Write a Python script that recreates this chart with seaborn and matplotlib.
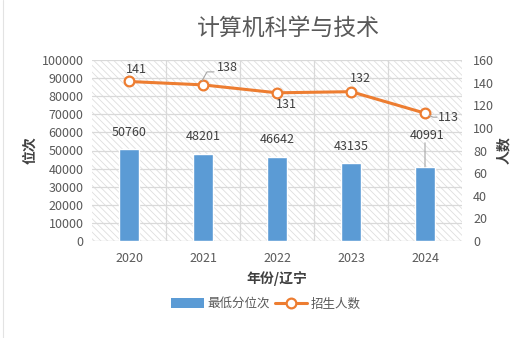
import matplotlib
matplotlib.use("Agg")
import matplotlib.pyplot as plt
import seaborn as sns
import pandas as pd
from matplotlib.patches import Rectangle
from matplotlib.lines import Line2D
from matplotlib.patches import Patch

years = ["2020", "2021", "2022", "2023", "2024"]
min_rank = [50760, 48201, 46642, 43135, 40991]
enrollment = [141, 138, 131, 132, 113]

title = "计算机科学与技术"
xlabel = "年份/辽宁"
ylabel_left = "位次"
ylabel_right = "人数"
legend_bar = "最低分位次"
legend_line = "招生人数"

BLUE = "#5B9BD5"
ORANGE = "#ED7D31"
TXT = "#595959"
GRID = "#D9D9D9"

sns.set_theme(style="white")
plt.rcParams["font.family"] = ["Noto Sans CJK SC", "DejaVu Sans"]
plt.rcParams["hatch.color"] = "#DEDEDE"
plt.rcParams["hatch.linewidth"] = 0.6

df = pd.DataFrame({"year": years, "rank": min_rank, "count": enrollment})

fig = plt.figure(figsize=(5.30, 3.38), dpi=100)
ax = fig.add_axes([92 / 530, 1 - 241 / 338, 370 / 530, 181 / 338])

# hatched plot background
ax.add_patch(Rectangle((0, 0), 1, 1, transform=ax.transAxes, facecolor="white",
                       edgecolor="#DEDEDE", hatch="\\\\\\\\\\", lw=0, zorder=0))

sns.barplot(data=df, x="year", y="rank", color=BLUE, width=0.28, ax=ax,
            saturation=1, zorder=3)

ax.set_ylim(0, 100000)
ax.set_xlim(-0.5, 4.5)
ax.set_yticks(range(0, 100001, 10000))
for yv in range(10000, 100001, 10000):
    ax.axhline(yv, color=GRID, lw=0.9, zorder=1)
for xv in [0.5, 1.5, 2.5, 3.5]:
    ax.axvline(xv, color=GRID, lw=0.9, zorder=1)
for s in ax.spines.values():
    s.set_visible(False)
ax.axhline(0, color=GRID, lw=1.0, zorder=2)

ax.tick_params(axis="both", length=0, labelsize=9, colors=TXT, pad=6)
ax.tick_params(axis="x", pad=8)
ax.set_xlabel(xlabel, fontsize=10, fontweight="bold", color="#404040", labelpad=4)
ax.set_ylabel(ylabel_left, fontsize=10, fontweight="bold", color="#404040", labelpad=3)

# bar value labels
bar_offsets = [17, 17, 17, 16, 31]
for i, (v, off) in enumerate(zip(min_rank, bar_offsets)):
    ax.annotate(f"{v}", (i, v), xytext=(0 if i < 4 else 2, off), textcoords="offset pixels",
                ha="center", va="center", fontsize=9, color="#404040", zorder=6)
# leader for the last bar label
ax.annotate("", (4, min_rank[4]), xytext=(0, 24), textcoords="offset pixels",
            arrowprops=dict(arrowstyle="-", color="#A6A6A6", lw=0.8, shrinkA=0, shrinkB=0))

ax2 = ax.twinx()
ax2.set_position(ax.get_position())
sns.lineplot(x=list(range(len(years))), y=enrollment, ax=ax2, color=ORANGE, lw=2.2,
             marker="o", markersize=7, markerfacecolor="white", markeredgecolor=ORANGE,
             markeredgewidth=1.6, zorder=5)
ax2.set_ylim(0, 160)
ax2.set_yticks(range(0, 161, 20))
ax2.set_xlim(-0.5, 4.5)
for s in ax2.spines.values():
    s.set_visible(False)
ax2.grid(False)
ax2.tick_params(axis="y", length=0, labelsize=9, colors=TXT, pad=8)
ax2.set_ylabel(ylabel_right, fontsize=10, fontweight="bold", color="#404040",
               rotation=90, labelpad=2)

line_offsets = [(7, 12), (24, 17), (9, -12), (9, 13), (23, -4)]
for i, (v, (dx, dy)) in enumerate(zip(enrollment, line_offsets)):
    ax2.annotate(f"{v}", (i, v), xytext=(dx, dy), textcoords="offset pixels",
                 ha="center", va="center", fontsize=9, color="#404040", zorder=6)

# leader lines for the 138 and 113 labels
p1 = ax2.transData.transform((1, enrollment[1]))
inv = fig.transFigure.inverted()
pts = [(p1[0] - 1, p1[1] + 4), (p1[0] + 4, p1[1] + 13), (p1[0] + 11, p1[1] + 13)]
pts = [inv.transform(p) for p in pts]
fig.add_artist(Line2D([p[0] for p in pts], [p[1] for p in pts], color="#A6A6A6", lw=0.8))
p4 = ax2.transData.transform((4, enrollment[4]))
pts = [(p4[0] + 4, p4[1] - 2), (p4[0] + 8, p4[1] - 4), (p4[0] + 12, p4[1] - 4)]
pts = [inv.transform(p) for p in pts]
fig.add_artist(Line2D([p[0] for p in pts], [p[1] for p in pts], color="#A6A6A6", lw=0.8))

fig.text(288 / 530, 1 - 28 / 338, title, ha="center", va="center", fontsize=16.5,
         color=TXT)

handles = [Patch(facecolor=BLUE, edgecolor="none"),
           Line2D([0], [0], color=ORANGE, lw=2.2, marker="o", markersize=7,
                  markerfacecolor="white", markeredgecolor=ORANGE, markeredgewidth=1.6)]
fig.legend(handles, [legend_bar, legend_line], loc="center", ncol=2,
           bbox_to_anchor=(266 / 530, 1 - 304 / 338), frameon=False, fontsize=9,
           labelcolor=TXT, handlelength=2.6, handletextpad=0.3, columnspacing=0.4,
           handleheight=0.9)

# faint frame line at the left edge
fig.add_artist(Line2D([3 / 530, 3 / 530], [0, 1], color="#E3E3E3", lw=0.8))

fig.savefig("out.png", dpi=100)
